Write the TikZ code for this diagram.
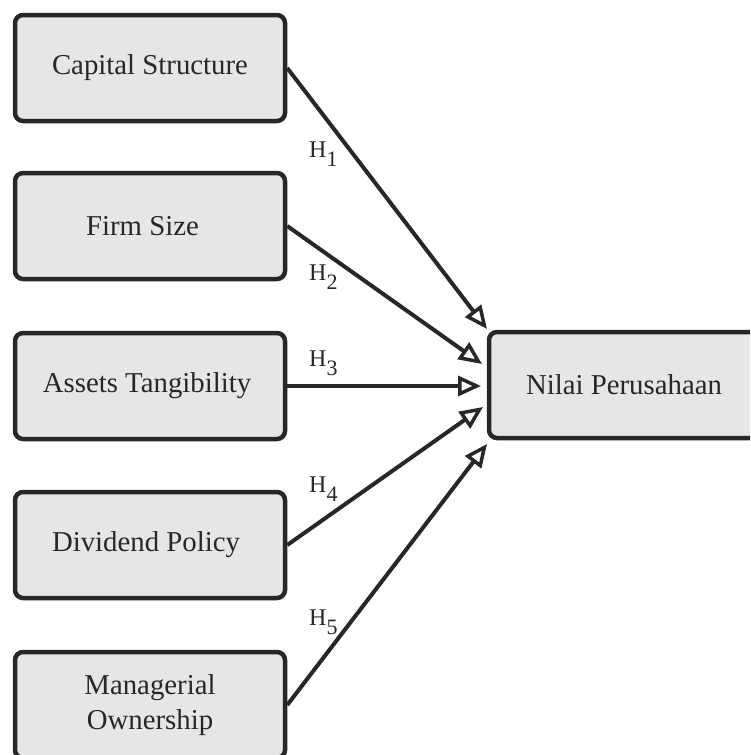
\documentclass[tikz,border=0pt]{standalone}
\usepackage{fontspec}
\setmainfont{Liberation Serif}
\usetikzlibrary{arrows.meta}
\definecolor{ink}{HTML}{2A2627}
\definecolor{boxfill}{HTML}{E6E6E6}
\newcommand{\hlab}[1]{H\raisebox{-9pt}{\fontsize{22}{22}\selectfont #1}}
\begin{document}
\begin{tikzpicture}[x=1pt,y=-1pt,
  box/.style={draw=ink, line width=4.5pt, fill=boxfill, rounded corners=8pt,
    minimum width=270pt, minimum height=106pt, inner sep=0pt, text=ink,
    font=\fontsize{28.8}{35}\selectfont, align=center},
  arr/.style={draw=ink, line width=4pt, -{Triangle[open, length=23pt, width=20pt, line width=3.5pt]}},
  hl/.style={anchor=base west, inner sep=0pt, text=ink, font=\fontsize{24}{24}\selectfont}]
\path[use as bounding box, clip] (0,0) rectangle (750,755);
\fill[white] (0,0) rectangle (750,755);
\node[box] (cs) at (150,68) {Capital Structure};
\node[box] (fs) at (150,226) {\hspace*{-15pt}Firm Size};
\node[box] (at) at (150,386) {\hspace*{-6pt}Assets Tangibility};
\node[box] (dp) at (150,545) {\hspace*{-8pt}Dividend Policy};
\node[box] (mo) at (150,705) {Managerial\\Ownership};
\node[box] (np) at (624,385) {Nilai Perusahaan};
\coordinate (t1) at (487,329);
\coordinate (t2) at (482,364);
\coordinate (t3) at (481,386);
\coordinate (t4) at (483,407);
\coordinate (t5) at (487,444);
\draw[arr] (cs.east) -- (t1);
\draw[arr] (fs.east) -- (t2);
\draw[arr] (at.east) -- (t3);
\draw[arr] (dp.east) -- (t4);
\draw[arr] (mo.east) -- (t5);
\node[hl] (h1) at (309,157) {\hlab{1}};
\node[hl] (h2) at (309,280) {\hlab{2}};
\node[hl] (h3) at (309,366) {\hlab{3}};
\node[hl] (h4) at (309,492) {\hlab{4}};
\node[hl] (h5) at (309,625) {\hlab{5}};
\end{tikzpicture}
\end{document}
